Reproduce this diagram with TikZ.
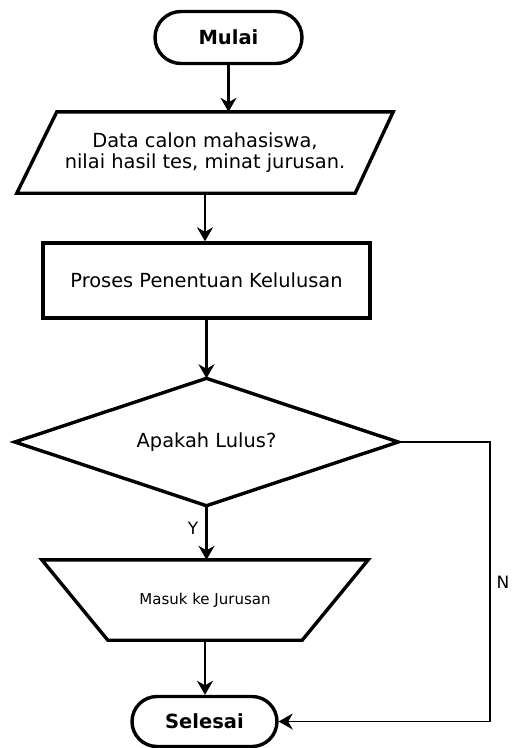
\documentclass[tikz,border=0pt]{standalone}
\usepackage{fontspec}
\setmainfont{DejaVu Sans}
\usetikzlibrary{shapes.misc,arrows.meta,calc}
\begin{document}
\begin{tikzpicture}[x=1pt,y=-1pt,
  term/.style={rounded rectangle, draw, line width=3.4pt, minimum height=52pt, inner sep=0pt,
    font=\fontsize{19.5}{22}\selectfont\bfseries},
  boxarea/.style={inner sep=0pt, align=center, font=\fontsize{19.4}{21}\selectfont},
  outline/.style={draw, line width=3.4pt, line join=miter},
  arr/.style={line width=2.4pt, -{Stealth[length=14pt,width=16pt,inset=4.5pt]}},
  thinarr/.style={line width=1.8pt, -{Stealth[length=14pt,width=16pt,inset=4.5pt]}},
  lbl/.style={font=\fontsize{17}{19}\selectfont, inner sep=0pt}]
\useasboundingbox (0,0) rectangle (512,748);
\fill[white] (0,0) rectangle (512,748);

\node[term, minimum width=147pt] (mulai) at (228.5,37.5) {Mulai};

\node[boxarea, minimum width=376pt, minimum height=81pt] (data) at (205,152.5)
  {Data calon mahasiswa,\\nilai hasil tes, minat jurusan.};
\draw[outline] ($(data.north west)+(40,0)$) -- (data.north east)
  -- ($(data.south east)+(-38,0)$) -- (data.south west) -- cycle;

\node[boxarea, draw, line width=3.4pt, minimum width=327pt, minimum height=75pt] (proses) at (206.5,280.5)
  {Proses Penentuan Kelulusan};

\node[boxarea, minimum width=383pt, minimum height=127pt] (dec) at (206.5,442) {Apakah Lulus?};
\draw[outline] (dec.north) -- (dec.east) -- (dec.south) -- (dec.west) -- cycle;

\node[boxarea, minimum width=326pt, minimum height=80pt, font=\fontsize{15}{18}\selectfont] (masuk) at (205,600)
  {Masuk ke Jurusan};
\draw[outline] (masuk.north west) -- (masuk.north east)
  -- ($(masuk.south east)+(-66,0)$) -- ($(masuk.south west)+(66,0)$) -- cycle;

\node[term, minimum width=145pt, minimum height=50pt] (selesai) at (204.5,721.5) {Selesai};

\coordinate (ncorner) at (490,442);

\draw[arr] (mulai.south) -- (mulai.south |- data.north);
\draw[arr] (data.south) -- (data.south |- proses.north);
\draw[arr] (proses.south) -- (proses.south |- dec.north);
\draw[arr] (dec.south) -- (dec.south |- masuk.north);
\draw[arr] (masuk.south) -- (masuk.south |- selesai.north);
\draw[thinarr] (dec.east) -- (ncorner) |- (selesai.east);

\node[lbl] (ylbl) at (193,528) {Y};
\node[lbl] (nlbl) at (503,582) {N};
\end{tikzpicture}
\end{document}
